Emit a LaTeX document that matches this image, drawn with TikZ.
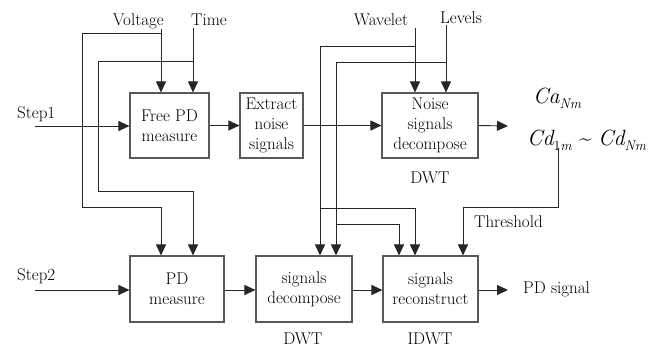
\documentclass[tikz,border=0pt]{standalone}
\usetikzlibrary{arrows.meta}
\begin{document}
\begin{tikzpicture}[x=1pt,y=-1pt,
  font=\rmfamily\fontsize{17}{20}\selectfont,
  box/.style={draw=black!65,line width=1.1pt,align=center,inner sep=1pt},
  wire/.style={draw=black!85,line width=0.9pt},
  arr/.style={wire,-{Triangle[length=11pt,width=10pt]}},
  lbl/.style={inner sep=0pt,anchor=base}]
\path[use as bounding box] (0,0) rectangle (659,349);

% boxes
\node[box,minimum width=79pt,minimum height=65pt] (free) at (169.5,125.5) {Free PD\\measure};
\node[box,minimum width=63pt,minimum height=65pt] (extract) at (271.5,125.5) {Extract\\noise\\signals};
\node[box,minimum width=96pt,minimum height=65pt] (noise) at (430,125.5) {Noise\\signals\\decompose};
\node[box,minimum width=94pt,minimum height=66pt] (pd) at (177,289) {PD\\measure};
\node[box,minimum width=96pt,minimum height=66pt] (dec) at (304,289) {signals\\decompose};
\node[box,minimum width=95pt,minimum height=66pt] (rec) at (430.5,289) {signals\\reconstruct};

% labels
\node[lbl,anchor=base east] (volt) at (164,25) {Voltage};
\node[lbl,anchor=base west] (time) at (191,25) {Time};
\node[lbl] (wav) at (381,25) {Wavelet};
\node[lbl] (lev) at (461,23) {Levels};
\node[lbl,anchor=base west] (st1) at (17,118) {Step1};
\node[lbl,anchor=base west] (st2) at (17,280) {Step2};
\node[lbl] (dwt1) at (430,183) {DWT};
\node[lbl] (dwt2) at (303,344) {DWT};
\node[lbl] (idwt) at (430,344) {IDWT};
\node[lbl,anchor=base west] (thr) at (474,227) {Threshold};
\node[lbl,anchor=base west] (pds) at (523,293) {PD signal};
\node[lbl,anchor=base west] (ca) at (533,103) {\fontsize{22}{22}\selectfont\itshape Ca\raisebox{-5pt}{\fontsize{14}{14}\selectfont Nm}};
\node[lbl,anchor=base west] (cd) at (527,145) {\fontsize{22}{22}\selectfont\itshape Cd\raisebox{-5pt}{\fontsize{14}{14}\selectfont\upshape 1\itshape m} \upshape\textasciitilde{} \itshape Cd\raisebox{-5pt}{\fontsize{14}{14}\selectfont Nm}};

% coordinates
\coordinate (s1) at (35,126);
\coordinate (s2) at (35,290);
\coordinate (nout) at (508,126);
\coordinate (rout) at (508,289);
\coordinate (v0) at (161,29);
\coordinate (vj) at (161,33);
\coordinate (t0) at (193,28);
\coordinate (tj) at (193,61);
\coordinate (w0) at (415,28);
\coordinate (wj) at (415,46);
\coordinate (l0) at (446,25);
\coordinate (lj) at (446,62);
\coordinate (th0) at (558,148);

% main flow
\draw[arr] (s1) -- (s1 -| free.west);
\draw[arr] (free.east) -- (free.east -| extract.west);
\draw[arr] (extract.east) -- (extract.east -| noise.west);
\draw[arr] (noise.east) -- (nout);
\draw[arr] (s2) -- (s2 -| pd.west);
\draw[arr] (pd.east |- s2) -- (s2 -| dec.west);
\draw[arr] (dec.east |- s2) -- (s2 -| rec.west);
\draw[arr] (rec.east |- s2) -- (rout |- s2);

% Voltage
\draw[arr] (v0) -- (v0 |- free.north);
\draw[arr] (vj) -- (82,33) -- (82,207) -- (161,207) -- (vj |- pd.north);
% Time
\draw[arr] (t0) -- (t0 |- free.north);
\draw[arr] (tj) -- (98,61) -- (98,191) -- (193,191) -- (tj |- pd.north);
% Wavelet
\draw[arr] (w0) -- (w0 |- noise.north);
\draw[arr] (wj) -- (320,46) -- (320,0 |- dec.north);
\draw[arr] (320,208) -- (415,208) -- (wj |- rec.north);
% Levels
\draw[arr] (l0) -- (l0 |- noise.north);
\draw[arr] (lj) -- (336,62) -- (336,0 |- dec.north);
\draw[arr] (336,224) -- (399,224) -- (399,0 |- rec.north);
% Threshold
\draw[arr] (th0) -- (558,207) -- (463,207) -- (463,0 |- rec.north);
\end{tikzpicture}
\end{document}
